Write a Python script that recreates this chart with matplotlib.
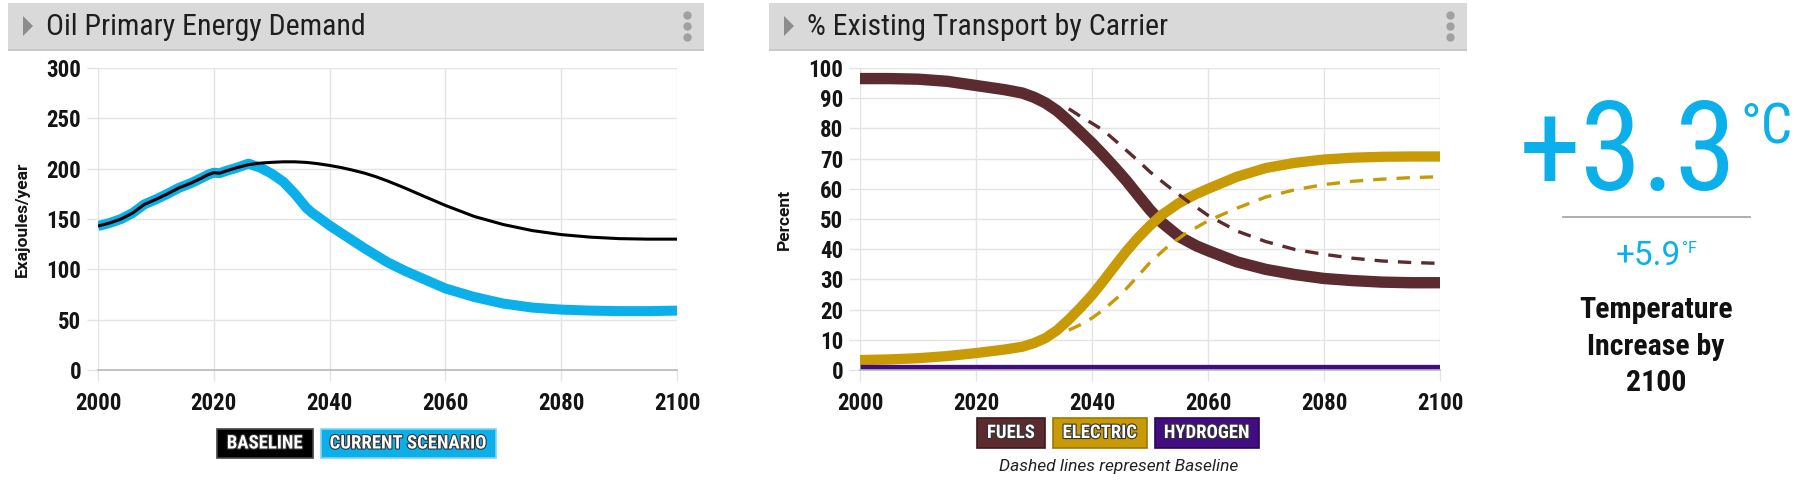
import matplotlib
matplotlib.use("Agg")
import matplotlib.pyplot as plt
from matplotlib import font_manager as fm
from matplotlib.patches import Rectangle, Polygon
from matplotlib.lines import Line2D
import matplotlib.patheffects as pe

# ---- data ----
oil_years = [2000, 2002, 2004, 2006, 2008, 2010, 2012, 2014, 2016, 2018, 2019, 2020,
             2021, 2022, 2024, 2026, 2028, 2030, 2032, 2034, 2036, 2037, 2038, 2040,
             2042, 2044, 2046, 2048, 2050, 2053, 2056, 2060, 2065, 2070, 2075, 2080,
             2085, 2090, 2095, 2100]
oil_baseline = [143, 146, 150, 156, 164.5, 169.5, 175, 181, 185.5, 191, 194, 196,
                195.5, 197.5, 201, 204, 205.5, 206.3, 206.8, 206.8, 206.2, 205.6, 204.9, 203.2,
                201.1, 198.5, 195.6, 192, 187.8, 180.8, 173.3, 163.5, 152.5, 144.5, 138.5, 134.5,
                132, 130.5, 130, 130]
oil_current = [143, 146, 150, 156, 164.5, 169.5, 175, 181, 185.5, 191, 194, 196,
               195.5, 197.5, 201, 205, 201, 195, 187, 175, 161, 156, 152, 143.5,
               136, 128.5, 121, 114, 107, 98.5, 91, 81, 72.5, 66, 62, 60,
               59, 58.5, 58.5, 59]

tr_years = [2000, 2005, 2010, 2015, 2020, 2025, 2028, 2030, 2032, 2034, 2036, 2038,
            2040, 2042, 2044, 2046, 2048, 2050, 2052, 2055, 2058, 2060, 2065, 2070,
            2075, 2080, 2085, 2090, 2095, 2100]
fuels = [96.5, 96.5, 96.3, 95.6, 94.2, 92.8, 91.7, 90.3, 88.4, 85.8, 82.4, 78.8,
         75.1, 71.1, 66.9, 62.5, 57.7, 53, 48.9, 44.2, 41.1, 39.5, 35.8, 33.3,
         31.6, 30.3, 29.6, 29.1, 28.9, 28.9]
electric = [3.3, 3.5, 3.9, 4.6, 5.6, 6.8, 7.7, 8.9, 10.6, 13.2, 16.7, 20.6,
            24.8, 29.6, 34.6, 39.5, 43.9, 47.8, 51.3, 55.3, 58.3, 60, 64, 66.9,
            68.6, 69.7, 70.3, 70.6, 70.7, 70.7]
hyd_years = [2000, 2050, 2100]
hydrogen = [1, 1, 1]

base_years = [2036, 2038, 2040, 2042, 2045, 2048, 2050, 2053, 2056, 2060, 2065, 2070,
              2075, 2080, 2085, 2090, 2095, 2100]
fuels_base = [86.5, 84, 81.7, 79.3, 74.3, 69.2, 65.6, 61, 56.6, 51.2, 46, 42.5,
              39.9, 38.3, 37, 36.1, 35.6, 35.3]
electric_base = [13.2, 15, 17.2, 20, 25, 31.3, 35.6, 40.8, 45, 49.4, 53.6, 57.3,
                 59.7, 61.4, 62.5, 63.2, 63.7, 64]

temp_c = "+3.3"
temp_f = "+5.9"

BLUE = "#0BB0EA"
FUEL = "#5C2B2F"
ELEC = "#C79A06"
HYDR = "#420D80"
GRID = "#e4e4e4"


def pick(*names):
    for n in names:
        try:
            fm.findfont(fm.FontProperties(family=n), fallback_to_default=False)
            return n
        except Exception:
            pass
    return "DejaVu Sans"


COND = pick("Roboto Condensed", "Liberation Sans Narrow", "Roboto")
REG = pick("Roboto", "DejaVu Sans")

W, H = 1800, 480
fig = plt.figure(figsize=(W / 100, H / 100), dpi=100)


def fx(x):
    return x / W


def fy(y):
    return 1 - y / H


def header(x0, x1, title):
    fig.add_artist(Rectangle((fx(x0), fy(51)), fx(x1 - x0), 48 / H,
                             transform=fig.transFigure, color="#c8c8c8", lw=0))
    fig.add_artist(Rectangle((fx(x0), fy(49)), fx(x1 - x0), 46 / H,
                             transform=fig.transFigure, color="#d9d9d9", lw=0))
    fig.add_artist(Polygon([(fx(x0 + 15), fy(16)), (fx(x0 + 15), fy(36)),
                            (fx(x0 + 25), fy(26))], closed=True,
                           transform=fig.transFigure, color="#8c8c8c", lw=0))
    fig.text(fx(x0 + 38), fy(27), title, family=COND, fontsize=21.5,
             color="#1e1e1e", va="center", ha="left")
    fig.add_artist(Line2D([fx(x1 - 17)] * 3, [fy(15), fy(26), fy(37)], ls="",
                          marker="o", ms=5, color="#a0a0a0",
                          transform=fig.transFigure))


def style(ax, ymax, step):
    ax.set_xlim(2000, 2100)
    ax.set_ylim(0, ymax)
    ax.set_xticks(range(2000, 2101, 20))
    ax.set_yticks(range(0, ymax + 1, step))
    ax.grid(True, color=GRID, lw=1)
    ax.set_axisbelow(True)
    for s in ("top", "right", "left"):
        ax.spines[s].set_visible(False)
    ax.spines["bottom"].set_color("#b8b8b8")
    ax.spines["bottom"].set_linewidth(1.2)
    ax.tick_params(axis="both", length=8, width=1, color=GRID, labelcolor="#141414")
    ax.tick_params(axis="x", pad=8)
    ax.tick_params(axis="y", pad=4)
    for lab in ax.get_xticklabels() + ax.get_yticklabels():
        lab.set_family(COND)
        lab.set_fontweight("bold")
        lab.set_fontsize(16.5)


def legend_box(x0, x1, y0, y1, color, edge, label):
    fig.add_artist(Rectangle((fx(x0), fy(y1)), fx(x1 - x0), (y1 - y0) / H,
                             transform=fig.transFigure, facecolor=color,
                             edgecolor=edge, lw=1.2))
    fig.text(fx((x0 + x1) / 2), fy((y0 + y1) / 2), label, family=COND,
             fontweight="bold", fontsize=13.5, color="white", ha="center",
             va="center",
             path_effects=[pe.withStroke(linewidth=1.6, foreground="#333333")])


# ---- left panel ----
header(8, 704, "Oil Primary Energy Demand")
ax1 = fig.add_axes([fx(98), fy(370), fx(677 - 98), (370 - 68) / H])
ax1.plot(oil_years, oil_current, color=BLUE, lw=7.2, solid_capstyle="butt",
         solid_joinstyle="round")
ax1.plot(oil_years, oil_baseline, color="black", lw=2.2, solid_capstyle="butt")
style(ax1, 300, 50)
fig.text(fx(22), fy(219), "Exajoules/year", family=REG, fontweight="bold",
         fontsize=12.5, rotation=90, ha="center", va="center", color="#141414")
legend_box(217, 313, 429, 458, "black", "#444444", "BASELINE")
legend_box(321, 496, 429, 458, BLUE, "#7fd3f2", "CURRENT SCENARIO")

# ---- right panel ----
header(769, 1467, "% Existing Transport by Carrier")
ax2 = fig.add_axes([fx(860), fy(370), fx(580), (370 - 68) / H])
ax2.plot(tr_years, fuels, color=FUEL, lw=8.2, solid_capstyle="butt")
ax2.plot(tr_years, electric, color=ELEC, lw=7.4, solid_capstyle="butt")
ax2.plot(hyd_years, hydrogen, color=HYDR, lw=3.8, solid_capstyle="butt")
ax2.plot(base_years, fuels_base, color=FUEL, lw=2.4, ls=(0, (4, 3)))
ax2.plot(base_years, electric_base, color=ELEC, lw=2.4, ls=(0, (4, 3)))
style(ax2, 100, 10)
fig.text(fx(784), fy(219), "Percent", family=REG, fontweight="bold",
         fontsize=12.5, rotation=90, ha="center", va="center", color="#141414")
legend_box(977, 1045, 418, 448, FUEL, "#3a1a1d", "FUELS")
legend_box(1053, 1147, 418, 448, ELEC, "#9c7904", "ELECTRIC")
legend_box(1155, 1259, 418, 448, HYDR, "#2a0855", "HYDROGEN")
fig.text(fx(1119), fy(467), "Dashed lines represent Baseline", family=REG,
         style="italic", fontsize=12.5, color="#222222", ha="center", va="center")

# ---- temperature readout ----
fig.text(fx(1737), fy(190), temp_c, family=COND, fontsize=90, color=BLUE,
         ha="right", va="baseline")
fig.text(fx(1741), fy(143), "\u00b0C", family=COND, fontsize=40, color=BLUE,
         ha="left", va="baseline")
fig.add_artist(Line2D([fx(1563), fx(1750)], [fy(217), fy(217)], color="#a0a0a0",
                      lw=1.2, transform=fig.transFigure))
fig.text(fx(1681), fy(265), temp_f, family=REG, fontsize=24, color=BLUE,
         ha="right", va="baseline")
fig.text(fx(1682), fy(253), "\u00b0F", family=REG, fontsize=11.5, color=BLUE,
         ha="left", va="baseline")
for txt, yy in (("Temperature", 310), ("Increase by", 347), ("2100", 383)):
    fig.text(fx(1656), fy(yy), txt, family=COND, fontweight="bold", fontsize=21.5,
             color="#111111", ha="center", va="center")

fig.savefig("out.png", dpi=100, facecolor="white")
